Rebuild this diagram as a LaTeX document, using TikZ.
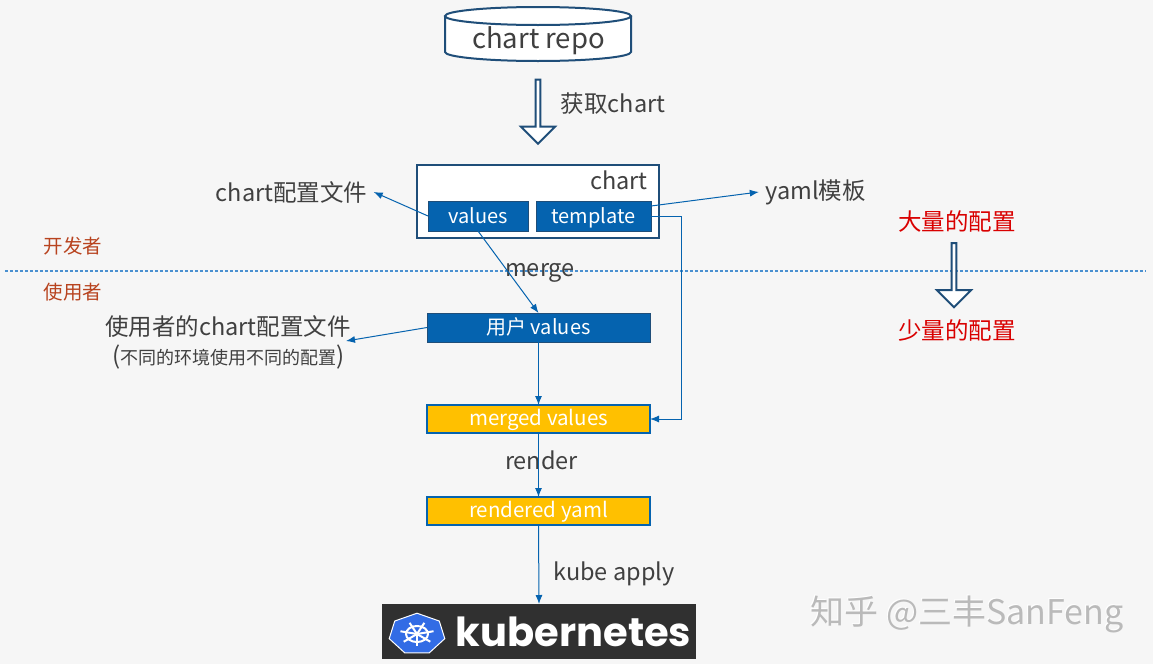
\documentclass[tikz,border=0pt]{standalone}
\usepackage{fontspec}
\setmainfont{Noto Sans CJK SC}
\newfontfamily\kubefont{Poppins}
\usepackage{xcolor}
\usetikzlibrary{shapes.geometric,shapes.arrows,arrows.meta}
\definecolor{paper}{HTML}{F6F6F6}
\definecolor{ink}{HTML}{404040}
\definecolor{navy}{HTML}{1F4E79}
\definecolor{azure}{HTML}{0563AF}
\definecolor{sky}{HTML}{4A90D0}
\definecolor{amber}{HTML}{FFC000}
\definecolor{rust}{HTML}{B8431F}
\definecolor{kubeblue}{HTML}{326CE5}
\definecolor{kubedark}{HTML}{303030}

\begin{document}
\begin{tikzpicture}[x=1pt, y=-1pt, >={Latex[length=9pt,width=7pt]}, line width=1pt,
  lab/.style={text=ink, inner sep=6pt, font=\fontsize{23.5}{28}\selectfont},
  who/.style={text=rust, inner sep=2pt, font=\fontsize{19.5}{24}\selectfont},
  hot/.style={text=red!85!black, inner sep=2pt, font=\fontsize{23.5}{28}\selectfont},
  bluebox/.style={draw=navy, fill=azure, text=white, inner sep=0pt, outer sep=0pt, minimum height=30pt, text height=15pt, text depth=1pt, font=\fontsize{20}{24}\selectfont},
  goldbox/.style={draw=azure, fill=amber, line width=1.5pt, text=white, inner sep=0pt, outer sep=0pt, minimum width=223pt, minimum height=28pt, text height=15pt, text depth=3pt, font=\fontsize{20.5}{24}\selectfont},
  bigarrow/.style={single arrow, draw=navy, fill=white, line width=2pt, inner sep=0pt, shape border rotate=270, minimum width=34pt, minimum height=64pt, single arrow head extend=6pt},
  flow/.style={->, azure}]
\useasboundingbox (0,0) rectangle (1153,664);
\fill[paper] (0,0) rectangle (1153,664);

% top of the picture
\draw[navy, fill=white, line width=2pt] (445,16) -- (445,52) arc[start angle=180, end angle=360, x radius=93, y radius=-9] -- (631,16);
\draw[navy, fill=white, line width=2pt] (538,16) ellipse[x radius=93, y radius=9];
\node[lab, font=\fontsize{27.5}{34}\selectfont] (repo) at (538.5,41) {chart repo};
\node[bigarrow] (fetch) at (538,110.5) {};
\node[lab] (fetchtext) at (613,104) {获取chart};

% chart package
\node[draw=navy, fill=white, line width=2pt, inner sep=0pt, outer sep=0pt, minimum width=242pt, minimum height=73pt] (chart) at (538,201.5) {};
\node[lab] (charttext) at (619,180) {chart};
\node[bluebox, minimum width=100pt] (values) at (478,216) {values};
\node[bluebox, minimum width=115pt] (template) at (593.5,216) {template};
\node[lab] (valuesnote) at (291.5,192) {chart配置文件};
\node[lab] (yamlnote) at (815.5,192) {yaml模板};

% roles
\coordinate (sepl) at (5,271);
\coordinate (sepr) at (1146,271);
\draw[draw=sky, line width=1.3pt, dash pattern=on 3pt off 2pt] (sepl) -- (sepr);
\node[who] (dev) at (73,246) {开发者};
\node[who] (user) at (73,292) {使用者};

% flow
\node[lab] (merge) at (540,273) {merge};
\node[bluebox, minimum width=223pt, minimum height=29pt] (uservalues) at (538.5,327.5) {用户 values};
\node[lab] (usernote) at (228,327) {使用者的chart配置文件};
\node[text=ink, inner sep=0pt, font=\fontsize{18}{20}\selectfont] (usersub) at (228.5,357) {\fontsize{24}{24}\selectfont(\fontsize{18}{20}\selectfont{}不同的环境使用不同的配置\fontsize{24}{24}\selectfont{})};
\coordinate (usertip) at (346,341);
\node[goldbox] (merged) at (538.5,419) {merged values};
\node[lab] (render) at (541.5,460) {render};
\node[goldbox] (rendered) at (538.5,511) {rendered yaml};
\node[lab] (apply) at (614,574) {kube apply};

% kubernetes logo
\node[fill=kubedark, inner sep=0pt, outer sep=0pt, minimum width=314pt, minimum height=55pt] (kube) at (539,631.5) {};
\begin{scope}[shift={(417,634)}, yscale=.73]
\node[regular polygon, regular polygon sides=7, draw=white, fill=kubeblue, inner sep=0pt, minimum size=57pt, transform shape] (wheel) at (0,0) {};
\draw[white, line width=2pt] (wheel.center) circle (11);
\foreach \a in {90,141.4,...,400}
  \draw[white, line width=2pt] (wheel.center) -- ++(\a:17);
\end{scope}
\node[text=white, inner sep=0pt, font=\kubefont\bfseries\fontsize{40}{44}\selectfont] (kubetext) at (573.5,632) {kubernetes};

% arrows
\draw[flow] (values.west) -- (valuesnote.east);
\draw[flow] ([yshift=10pt]template.east) -- (yamlnote.west);
\coordinate (bend) at (681,419);
\draw[flow] (template.east) -| (bend) -- (merged.east);
\draw[flow] (values.south) -- (uservalues.north);
\draw[flow] (uservalues.west) -- (usertip);
\draw[flow] (uservalues.south) -- (merged.north);
\draw[flow] (merged.south) -- (rendered.north);
\draw[flow] (rendered.south) -- (kube.north);

% right side
\node[hot] (many) at (957,221) {大量的配置};
\node[bigarrow] (less) at (954,274) {};
\node[hot] (few) at (957,331) {少量的配置};

% watermark
\node[text=white, inner sep=0pt, font=\fontsize{34}{38}\selectfont] (markshadow) at (966,613) {知乎 @三丰SanFeng};
\node[text=black!27, inner sep=0pt, font=\fontsize{34}{38}\selectfont] (mark) at (967,614) {知乎 @三丰SanFeng};
\end{tikzpicture}
\end{document}
